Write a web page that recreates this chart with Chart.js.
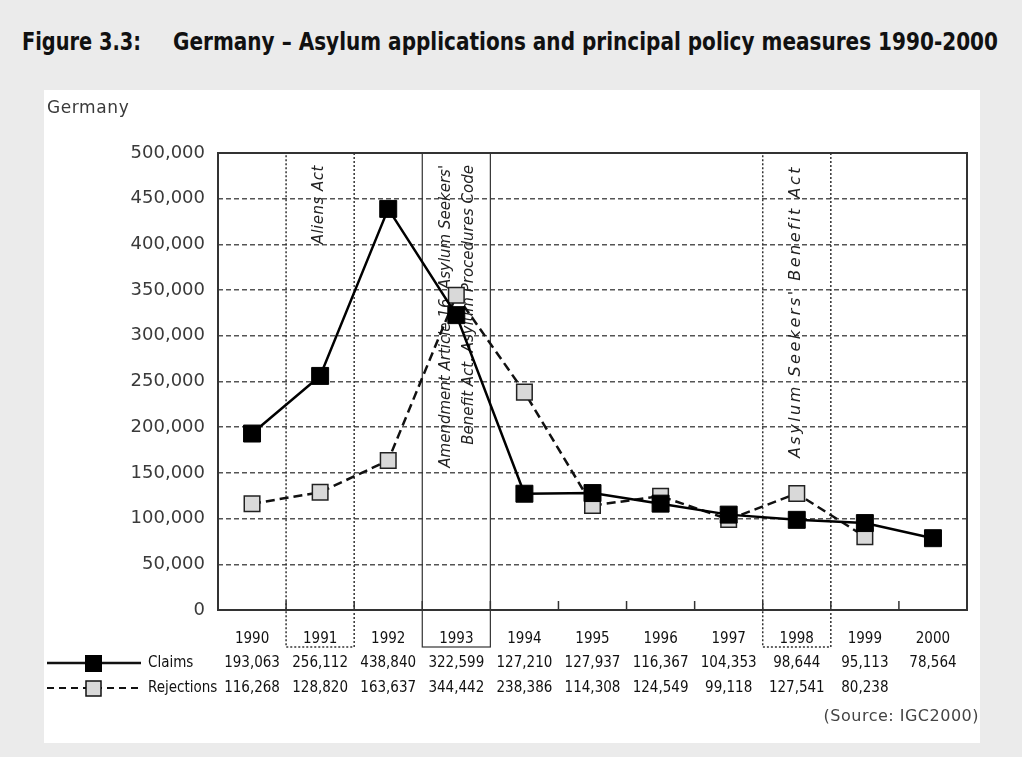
<!DOCTYPE html>
<html>
<head>
<meta charset="utf-8">
<script src="https://cdn.jsdelivr.net/npm/chart.js@4.4.0/dist/chart.umd.min.js"></script>
<style>
  html, body { margin: 0; padding: 0; }
  body { width: 1022px; height: 757px; background: #ebebeb; position: relative; overflow: hidden; }
  .title {
    position: absolute; top: 27px; margin: 0;
    font: bold 25px 'DejaVu Sans Condensed', sans-serif;
    color: #111; white-space: pre; transform-origin: 0 0;
  }
  #panel { position: absolute; left: 44px; top: 90px; width: 936px; height: 653px; background: #fff; }
  #country { position: absolute; left: 3px; top: 7px; font: 17px 'DejaVu Sans', sans-serif; letter-spacing: 0.6px; color: #3a3a3a; }
  #graph { position: absolute; left: 0; top: 0; }
</style>
</head>
<body>
<div class="title" id="t1" data-w="119" style="left:22px">Figure 3.3:</div>
<div class="title" id="t2" data-w="825" style="left:173px">Germany – Asylum applications and principal policy measures 1990-2000</div>
<div id="panel">
  <canvas id="graph" width="936" height="653"></canvas>
  <div id="country">Germany</div>
</div>
<script>
// Data
const years = ['1990', '1991', '1992', '1993', '1994', '1995', '1996', '1997', '1998', '1999', '2000'];
const claims = [193063, 256112, 438840, 322599, 127210, 127937, 116367, 104353, 98644, 95113, 78564];
const rejections = [116268, 128820, 163637, 344442, 238386, 114308, 124549, 99118, 127541, 80238, null];

// Policy measures: year index, box style, rotated text lines
const measures = [
    { idx: 1, dotted: true, lines: ['Aliens Act'] },
    { idx: 3, dotted: false, lines: ['Amendment Article 16, Asylum Seekers\'', 'Benefit Act, Asylum Procedures Code'] },
    { idx: 8, dotted: true, lines: ['Asylum Seekers\' Benefit Act'] },
];
// font size / letter spacing for the handwritten-looking labels
const labelStyle = { 1: [15, '0.5px'], 3: [15, '0px'], 8: [16, '2.5px'] };

// squeeze the condensed title to the width it has in the figure
document.querySelectorAll('.title').forEach(el => {
    const w = el.getBoundingClientRect().width;
    el.style.transform = 'scaleX(' + (el.dataset.w / w) + ')';
});

const narrow = "'DejaVu Sans Condensed', sans-serif";
const fmt = v => v == null ? '' : v.toLocaleString('en-US');

const measurePlugin = {
    id: 'measures',
    beforeDatasetsDraw(chart) {
        const c = chart.ctx, x = chart.scales.x, a = chart.chartArea;
        const half = (x.getPixelForValue(1) - x.getPixelForValue(0)) / 2;
        c.save();
        measures.forEach(m => {
            const cx = x.getPixelForValue(m.idx);
            c.strokeStyle = '#333';
            c.lineWidth = m.dotted ? 1.5 : 1.2;
            c.setLineDash(m.dotted ? [2, 2] : []);
            c.strokeRect(cx - half, a.top, half * 2, 557 - a.top);
            // rotated labels, reading upward, anchored at the top
            c.setLineDash([]);
            c.fillStyle = '#222';
            const st = labelStyle[m.idx];
            c.font = 'italic ' + st[0] + "px 'DejaVu Sans', sans-serif";
            c.letterSpacing = st[1];
            c.textAlign = 'right';
            c.textBaseline = 'middle';
            const n = m.lines.length;
            m.lines.forEach((t, i) => {
                const tx = cx + (i - (n - 1) / 2) * 23 + (n === 1 ? -1 : 1);
                c.save();
                c.translate(tx, a.top + 12);
                c.rotate(-Math.PI / 2);
                c.fillText(t, 0, 0);
                c.restore();
            });
        });
        c.letterSpacing = '0px';
        c.restore();
    },
    afterDatasetsDraw(chart) {
        const c = chart.ctx, x = chart.scales.x, a = chart.chartArea;
        const half = (x.getPixelForValue(1) - x.getPixelForValue(0)) / 2;
        c.save();
        // plot frame
        c.strokeStyle = '#333';
        c.lineWidth = 2;
        c.strokeRect(a.left, a.top, a.right - a.left, a.bottom - a.top);
        // inner ticks at column boundaries
        c.lineWidth = 1.5;
        for (let i = 1; i < years.length; i++) {
            const bx = x.getPixelForValue(i) - half;
            c.beginPath();
            c.moveTo(bx, a.bottom);
            c.lineTo(bx, a.bottom - 9);
            c.stroke();
        }
        c.restore();
    },
    afterDraw(chart) {
        const c = chart.ctx, x = chart.scales.x;
        c.save();
        // table of values
        c.font = '15px ' + narrow;
        c.fillStyle = '#111';
        c.textAlign = 'center';
        c.textBaseline = 'middle';
        years.forEach((y, i) => {
            const px = x.getPixelForValue(i);
            c.fillText(fmt(claims[i]), px, 573);
            c.fillText(fmt(rejections[i]), px, 598);
        });
        // legend keys
        c.textAlign = 'left';
        c.fillText('Claims', 104, 573);
        c.fillText('Rejections', 104, 598);
        c.strokeStyle = '#111';
        c.lineWidth = 2.5;
        c.beginPath(); c.moveTo(3, 573); c.lineTo(97, 573); c.stroke();
        c.fillStyle = '#000';
        c.fillRect(41, 565, 17, 17);
        c.lineWidth = 2;
        c.setLineDash([7, 5]);
        c.beginPath(); c.moveTo(3, 598); c.lineTo(97, 598); c.stroke();
        c.setLineDash([]);
        c.fillStyle = '#d9d9d9';
        c.lineWidth = 1.5;
        c.fillRect(42, 591, 15, 15);
        c.strokeRect(42, 591, 15, 15);
        // source
        c.font = "16px 'DejaVu Sans', sans-serif";
        c.letterSpacing = '0.5px';
        c.fillStyle = '#444';
        c.textAlign = 'right';
        c.fillText('(Source: IGC2000)', 935, 627);
        c.restore();
    }
};

const chart = new Chart(document.getElementById('graph').getContext('2d'), {
    type: 'line',
    data: {
        labels: years,
        datasets: [
            {
                label: 'Claims',
                data: claims,
                borderColor: '#000',
                borderWidth: 2.5,
                backgroundColor: '#000',
                pointStyle: 'rect',
                pointRadius: 12,
                pointBorderWidth: 1,
                pointBorderColor: '#000',
                tension: 0,
            },
            {
                label: 'Rejections',
                data: rejections,
                borderColor: '#111',
                borderWidth: 2.5,
                borderDash: [9, 5],
                backgroundColor: '#d9d9d9',
                pointStyle: 'rect',
                pointRadius: 11,
                pointBorderWidth: 1.5,
                pointBorderColor: '#222',
                tension: 0,
            },
        ],
    },
    options: {
        responsive: false,
        animation: false,
        layout: { padding: { top: 63, right: 3, left: 0, bottom: 0 } },
        plugins: { legend: { display: false }, tooltip: { enabled: false } },
        scales: {
            x: {
                offset: true,
                grid: { display: false, drawTicks: false },
                border: { display: false },
                ticks: { font: { family: narrow, size: 15 }, color: '#111', padding: 20 },
                afterFit: s => { s.height = 133; },
            },
            y: {
                min: 0,
                max: 500000,
                ticks: {
                    stepSize: 50000,
                    font: { family: 'DejaVu Sans', size: 18 },
                    color: '#3a3a3a',
                    padding: 13,
                    callback: v => v.toLocaleString('en-US'),
                },
                grid: { color: '#555', lineWidth: 1.5, drawTicks: false },
                border: { display: false, dash: [5, 3] },
                afterFit: s => { s.width = 174; },
            },
        },
    },
    plugins: [measurePlugin],
});
</script>
</body>
</html>
